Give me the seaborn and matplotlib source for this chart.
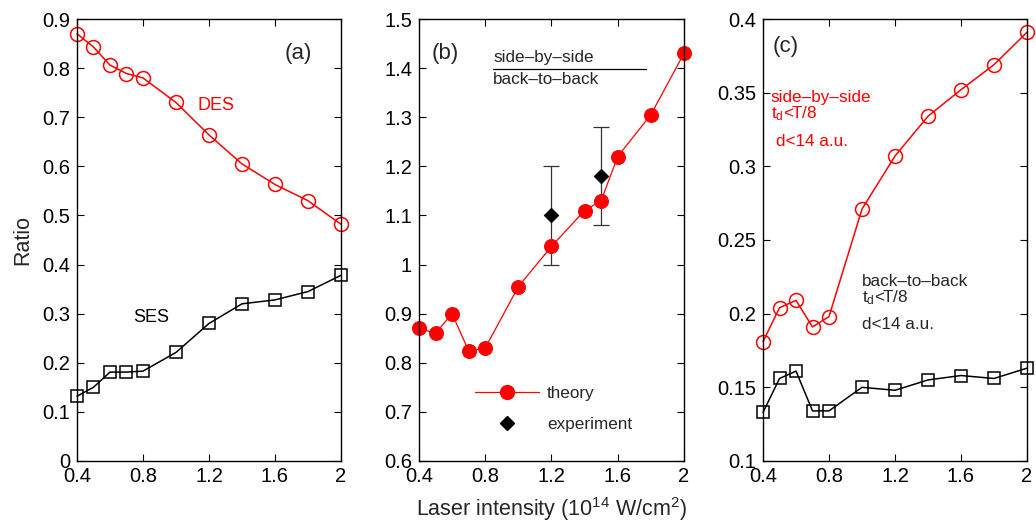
import matplotlib
matplotlib.use("Agg")
import matplotlib.pyplot as plt
import seaborn as sns
import numpy as np
from matplotlib.lines import Line2D
from matplotlib.ticker import FuncFormatter

# Laser intensity grid (10^14 W/cm^2)
intensity = [0.4, 0.5, 0.6, 0.7, 0.8, 1.0, 1.2, 1.4, 1.6, 1.8, 2.0]

# (a) double / single electron-sharing ratios
des_ratio = [0.870, 0.843, 0.806, 0.789, 0.780, 0.730, 0.664, 0.605, 0.563, 0.530, 0.482]
ses_ratio = [0.132, 0.150, 0.181, 0.181, 0.183, 0.221, 0.280, 0.320, 0.328, 0.345, 0.378]

# (b) side-by-side / back-to-back, theory and experiment
theory_x = [0.4, 0.5, 0.6, 0.7, 0.8, 1.0, 1.2, 1.4, 1.5, 1.6, 1.8, 2.0]
theory_y = [0.870, 0.860, 0.900, 0.824, 0.830, 0.955, 1.037, 1.110, 1.130, 1.220, 1.305, 1.430]
exp_x = [1.2, 1.5]
exp_y = [1.10, 1.18]
exp_lo = [1.00, 1.08]
exp_hi = [1.20, 1.28]

# (c) ratios with t_d < T/8 and d < 14 a.u.
sbs_ratio = [0.181, 0.204, 0.209, 0.191, 0.198, 0.271, 0.307, 0.334, 0.352, 0.369, 0.391]
btb_ratio = [0.133, 0.156, 0.161, 0.134, 0.134, 0.150, 0.148, 0.155, 0.158, 0.156, 0.163]

x_ticks = [0.4, 0.8, 1.2, 1.6, 2.0]

sns.set_theme(style="ticks")
plt.rcParams["font.family"] = ["Liberation Sans", "DejaVu Sans"]
plt.rcParams["mathtext.fontset"] = "custom"
plt.rcParams["mathtext.rm"] = "Liberation Sans"
plt.rcParams["mathtext.it"] = "Liberation Sans"
plt.rcParams["axes.linewidth"] = 1.0
plt.rcParams["axes.edgecolor"] = "black"

fig = plt.figure(figsize=(10.36, 5.22), dpi=100)
ax_a = fig.add_axes([0.0743, 0.1169, 0.2548, 0.8467])
ax_b = fig.add_axes([0.4044, 0.1169, 0.2558, 0.8467])
ax_c = fig.add_axes([0.7365, 0.1169, 0.2548, 0.8467])

fmt = FuncFormatter(lambda v, p: f"{v:g}")


def style_axes(ax, ylim, yticks):
    ax.set_xlim(0.4, 2.0)
    ax.set_ylim(*ylim)
    ax.set_xticks(x_ticks)
    ax.set_yticks(yticks)
    ax.xaxis.set_major_formatter(fmt)
    ax.yaxis.set_major_formatter(fmt)
    ax.tick_params(direction="in", length=5, width=0.8, top=True, right=True,
                   labelsize=14.5, colors="black", pad=5)
    ax.tick_params(axis="x", pad=4)
    for s in ax.spines.values():
        s.set_visible(True)
        s.set_color("black")
    ax.set_xlabel("")
    ax.set_ylabel("")


# ---- (a) ----
sns.lineplot(x=intensity, y=des_ratio, ax=ax_a, color="red", lw=1.1,
             marker="o", markersize=10, markerfacecolor="none",
             markeredgecolor="red", markeredgewidth=1.1, clip_on=False)
sns.lineplot(x=intensity, y=ses_ratio, ax=ax_a, color="black", lw=1.1,
             marker="s", markersize=9, markerfacecolor="none",
             markeredgecolor="black", markeredgewidth=1.1, clip_on=False)
style_axes(ax_a, (0, 0.9), np.arange(0, 0.91, 0.1))
ax_a.set_ylabel("Ratio", fontsize=15.5, labelpad=6)
ax_a.text(0.837, 0.923, "(a)", transform=ax_a.transAxes, fontsize=16,
          ha="center", va="center")
ax_a.text(0.455, 0.805, "DES", transform=ax_a.transAxes, fontsize=13,
          color="red", va="center")
ax_a.text(0.212, 0.3235, "SES", transform=ax_a.transAxes, fontsize=13,
          color="black", va="center")

# ---- (b) ----
ax_b.errorbar(exp_x, exp_y,
              yerr=[np.subtract(exp_y, exp_lo), np.subtract(exp_hi, exp_y)],
              fmt="none", ecolor="#333333", elinewidth=0.9, capsize=6, capthick=0.9)
sns.lineplot(x=theory_x, y=theory_y, ax=ax_b, color="red", lw=0.9,
             marker="o", markersize=10, markerfacecolor="red",
             markeredgecolor="red", clip_on=False)
sns.scatterplot(x=exp_x, y=exp_y, ax=ax_b, color="black", marker="D", s=55,
                edgecolor="black", zorder=5)
style_axes(ax_b, (0.6, 1.5), np.arange(0.6, 1.51, 0.1))
ax_b.text(0.049, 0.923, "(b)", transform=ax_b.transAxes, fontsize=16, va="center")
ax_b.text(0.28, 0.912, "side–by–side", transform=ax_b.transAxes, fontsize=12.3, va="center")
ax_b.text(0.28, 0.862, "back–to–back", transform=ax_b.transAxes, fontsize=12.3, va="center")
ax_b.plot([0.28, 0.855], [0.887, 0.887], transform=ax_b.transAxes,
          color="black", lw=0.9)
handles = [
    Line2D([], [], color="red", lw=0.9, marker="o", markersize=10,
           markerfacecolor="red", markeredgecolor="red"),
    Line2D([], [], color="black", lw=0, marker="D", markersize=7.5,
           markerfacecolor="black"),
]
ax_b.legend(handles, ["theory", "experiment"], frameon=False, fontsize=12.3,
            loc="lower left", bbox_to_anchor=(0.155, 0.03), handlelength=3.7,
            handletextpad=0.5, labelspacing=0.95)
ax_b.set_xlabel("Laser intensity (10$^{14}$ W/cm$^2$)", fontsize=15.5, labelpad=7)

# ---- (c) ----
sns.lineplot(x=intensity, y=sbs_ratio, ax=ax_c, color="red", lw=1.1,
             marker="o", markersize=10, markerfacecolor="none",
             markeredgecolor="red", markeredgewidth=1.1, clip_on=False)
sns.lineplot(x=intensity, y=btb_ratio, ax=ax_c, color="black", lw=1.1,
             marker="s", markersize=9, markerfacecolor="none",
             markeredgecolor="black", markeredgewidth=1.1, clip_on=False)
style_axes(ax_c, (0.1, 0.4), np.arange(0.1, 0.401, 0.05))
ax_c.text(0.038, 0.937, "(c)", transform=ax_c.transAxes, fontsize=16, va="center")
ax_c.text(0.03, 0.8235, "side–by–side", transform=ax_c.transAxes, fontsize=12.3,
          color="red", va="center")
ax_c.text(0.03, 0.776, "t$_\\mathregular{d}$<T/8", transform=ax_c.transAxes,
          fontsize=12.3, color="red", va="baseline")
ax_c.text(0.049, 0.722, "d<14 a.u.", transform=ax_c.transAxes, fontsize=12.3,
          color="red", va="center")
ax_c.text(0.375, 0.405, "back–to–back", transform=ax_c.transAxes, fontsize=12.3,
          va="center")
ax_c.text(0.375, 0.36, "t$_\\mathregular{d}$<T/8", transform=ax_c.transAxes,
          fontsize=12.3, va="baseline")
ax_c.text(0.375, 0.308, "d<14 a.u.", transform=ax_c.transAxes, fontsize=12.3,
          va="center")

fig.savefig("out.png", dpi=100)
